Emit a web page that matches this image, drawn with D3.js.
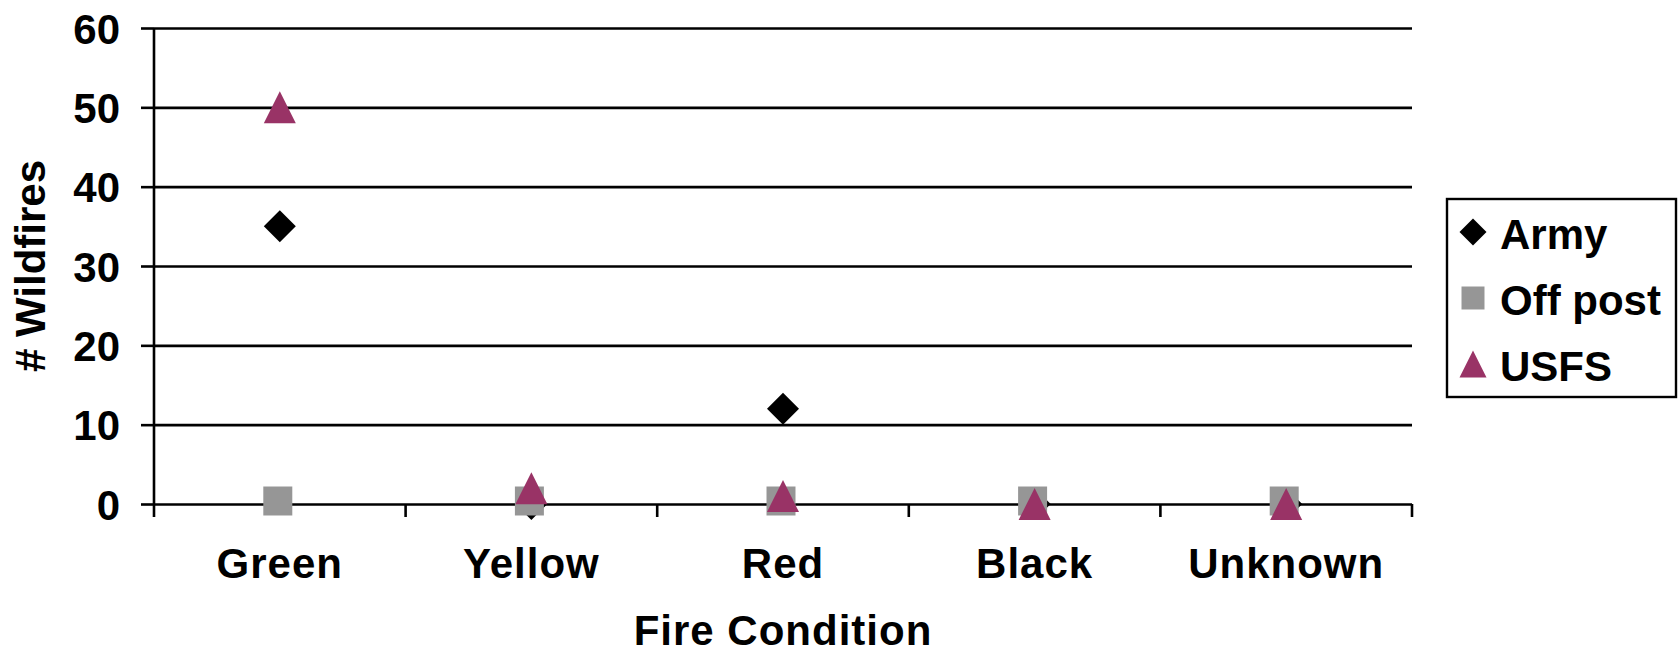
<!DOCTYPE html>
<html>
<head>
<meta charset="utf-8">
<script src="https://cdn.jsdelivr.net/npm/d3@7"></script>
<style>
  body { margin: 0; background: #fff; }
  text { font-family: "Liberation Sans", Arial, sans-serif; font-weight: bold; fill: #000; }
</style>
</head>
<body>
<svg width="1679" height="655"></svg>
<script>
var categories = ["Green", "Yellow", "Red", "Black", "Unknown"];
var army = [35, 0, 12, 0, 0];
var offPost = [0, 0, 0, 0, 0];
var usfs = [50, 2, 1, 0, 0];
var yTicks = [0, 10, 20, 30, 40, 50, 60];

var seriesNames = ["Army", "Off post", "USFS"];
var seriesValues = [army, offPost, usfs];

var svg = d3.select("svg"),
    margin = {top: 28, right: 267, bottom: 151, left: 154},
    width = svg.attr("width") - margin.left - margin.right,
    height = svg.attr("height") - margin.top - margin.bottom,
    g = svg.append("g").attr("transform", "translate(" + margin.left + "," + margin.top + ")");

var x = d3.scaleBand().domain(categories).range([0, width]).padding(0),
    y = d3.scaleLinear().domain([0, 60]).range([height, 0]);

// excel style markers: box of side sqrt(size), centred on the point
var diamond = {
  draw: function(p, size) {
    var r = Math.sqrt(size) / 2;
    p.moveTo(0, -r); p.lineTo(r, 0); p.lineTo(0, r); p.lineTo(-r, 0); p.closePath();
  }
};
var triangle = {
  draw: function(p, size) {
    var r = Math.sqrt(size) / 2;
    p.moveTo(0, -r); p.lineTo(r, r); p.lineTo(-r, r); p.closePath();
  }
};

var styles = [
  {shape: diamond, size: 32, color: "#000000", dx: 0, dy: 0},
  {shape: d3.symbolSquare, size: 29, color: "#969696", dx: -2, dy: -3},
  {shape: triangle, size: 32, color: "#993366", dx: 0, dy: 0}
];

// gridlines
g.append("g")
    .attr("class", "grid")
    .call(d3.axisLeft(y).tickValues(yTicks).tickSize(-width).tickFormat(""))
  .call(function(s) {
    s.select(".domain").remove();
    s.selectAll("line").attr("stroke", "#000").attr("stroke-width", 2.6);
  });

// y axis
g.append("g")
    .attr("class", "axis axis--y")
    .call(d3.axisLeft(y).tickValues(yTicks).tickSize(13).tickPadding(21))
  .call(function(s) {
    s.select(".domain").attr("d", "M0,0V" + (height + 13)).attr("stroke", "#000").attr("stroke-width", 2.6);
    s.selectAll("line").attr("stroke", "#000").attr("stroke-width", 2.6);
    s.selectAll("text").style("font-size", "42px").attr("dy", "0.36em");
  });

// x axis: ticks at band boundaries
var bounds = categories.map(function(c) { return x(c); }).concat([width]);
g.append("g")
    .attr("class", "axis axis--x")
  .selectAll("line")
  .data(bounds.slice(1))
  .enter().append("line")
    .attr("x1", function(d) { return d; })
    .attr("x2", function(d) { return d; })
    .attr("y1", height)
    .attr("y2", height + 13)
    .attr("stroke", "#000")
    .attr("stroke-width", 2.6);

g.selectAll(".xlabel")
  .data(categories)
  .enter().append("text")
    .attr("class", "xlabel")
    .attr("x", function(d) { return x(d) + x.bandwidth() / 2; })
    .attr("y", height + 74)
    .attr("text-anchor", "middle")
    .style("font-size", "42px")
    .style("letter-spacing", "1px")
    .text(function(d) { return d; });

// axis titles
g.append("text")
    .attr("x", width / 2)
    .attr("y", height + 141)
    .attr("text-anchor", "middle")
    .style("font-size", "42px")
    .style("letter-spacing", "1px")
    .text("Fire Condition");

svg.append("text")
    .attr("transform", "translate(45," + (margin.top + height / 2) + ") rotate(-90)")
    .attr("text-anchor", "middle")
    .style("font-size", "42px")
    .text("# Wildfires");

// points
seriesValues.forEach(function(vals, i) {
  var st = styles[i];
  g.append("g")
      .attr("class", "series")
    .selectAll("path")
    .data(vals)
    .enter().append("path")
      .attr("transform", function(d, j) {
        return "translate(" + (x(categories[j]) + x.bandwidth() / 2 + st.dx) + "," + (y(d) + st.dy) + ")";
      })
      .attr("d", d3.symbol().type(st.shape).size(st.size * st.size))
      .attr("fill", st.color);
});

// legend
var legend = svg.append("g").attr("transform", "translate(1447,199)");
legend.append("rect")
    .attr("width", 229)
    .attr("height", 198)
    .attr("fill", "#fff")
    .attr("stroke", "#000")
    .attr("stroke-width", 2.4);

var legendSizes = [27, 23, 27];
var item = legend.selectAll(".item")
  .data(seriesNames)
  .enter().append("g")
    .attr("class", "item")
    .attr("transform", function(d, i) { return "translate(0," + (33 + i * 66) + ")"; });

item.append("path")
    .attr("transform", "translate(26,0)")
    .attr("d", function(d, i) { return d3.symbol().type(styles[i].shape).size(legendSizes[i] * legendSizes[i])(); })
    .attr("fill", function(d, i) { return styles[i].color; });

item.append("text")
    .attr("x", 53)
    .attr("y", 17)
    .style("font-size", "42px")
    .text(function(d) { return d; });
</script>
</body>
</html>
